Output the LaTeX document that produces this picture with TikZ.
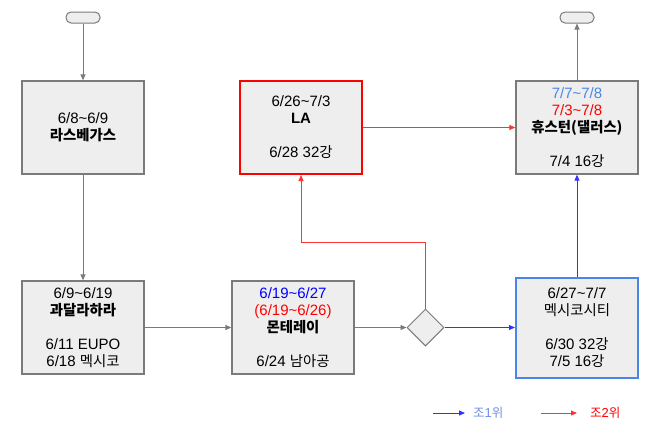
\documentclass[tikz,border=0pt]{standalone}
\usepackage{fontspec}
\setmainfont{Liberation Sans}
\newfontfamily\krfont{Noto Sans CJK KR}[Scale=0.96]
\newcommand{\kr}[1]{{\krfont #1}}
\usetikzlibrary{arrows.meta,shapes.geometric}
\definecolor{boxfill}{HTML}{EEEEEE}
\definecolor{boxline}{HTML}{7A7A7A}
\definecolor{lblue}{HTML}{4A86E8}
\definecolor{myred}{HTML}{FF0000}
\definecolor{myblue}{HTML}{0000FF}
\definecolor{legblue}{HTML}{6D8EEB}
\begin{document}
\begin{tikzpicture}[x=1pt,y=-1pt,
  box/.style={draw=boxline,line width=1.3pt,fill=boxfill,minimum width=122pt,minimum height=93pt,inner sep=0pt,align=center,font=\fontsize{15}{17}\selectfont},
  term/.style={draw=boxline,line width=1pt,fill=boxfill,rounded corners=5pt,minimum width=34pt,minimum height=11pt,inner sep=0pt},
  decision/.style={diamond,aspect=1,draw=boxline,line width=1pt,fill=boxfill,minimum size=37pt,inner sep=0pt},
  tip/.style={-{Triangle[length=6pt,width=5pt]}},
  conn/.style={tip,draw=boxline,line width=0.9pt},
  redconn/.style={tip,draw=myred!80,line width=0.9pt},
  blueconn/.style={tip,draw=myblue!80,line width=0.9pt},
  legtext/.style={anchor=west,inner sep=0pt,font=\fontsize{13}{15}\selectfont}]
\useasboundingbox (0,0) rectangle (654,432);
% terminals
\node[term] (start) at (83,17.5) {};
\node[term] (finish) at (577,17.5) {};
% top row
\node[box] (lv) at (83,127.5) {6/8\textasciitilde 6/9\\ {\bfseries\krfont 라스베가스}};
\node[box,draw=myred,line width=2pt] (la) at (301,127.5) {6/26\textasciitilde 7/3\\ \textbf{LA}\\[17pt] 6/28 32\kr{강}};
\node[box] (hou) at (577,127.5) {\textcolor{lblue}{7/7\textasciitilde 7/8}\\ \textcolor{myred}{7/3\textasciitilde 7/8}\\ {\bfseries\krfont 휴스턴(댈러스)}\\[17pt] 7/4 16\kr{강}};
% bottom row
\node[box] (gua) at (83,327.5) {6/9\textasciitilde 6/19\\ {\bfseries\krfont 과달라하라}\\[17pt] 6/11 EUPO\\ 6/18 \kr{멕시코}};
\node[box] (mon) at (293,327.5) {\textcolor{myblue}{6/19\textasciitilde 6/27}\\ \textcolor{myred}{(6/19\textasciitilde 6/26)}\\ {\bfseries\krfont 몬테레이}\\[17pt] 6/24 \kr{남아공}};
\node[decision] (dia) at (425.5,327.5) {};
\node[box,draw=lblue,line width=2pt,minimum height=100pt] (mex) at (577,327.5) {6/27\textasciitilde 7/7\\ \kr{멕시코시티}\\[17pt] 6/30 32\kr{강}\\ 7/5 16\kr{강}};
% connectors
\draw[conn] (start) -- (lv);
\draw[conn] (lv) -- (gua);
\draw[conn] (gua) -- (mon);
\draw[conn] (mon) -- (dia);
\draw[blueconn] (dia) -- (mex);
\draw[blueconn] (mex) -- (hou);
\draw[conn] (hou) -- (finish);
\coordinate (bend) at (301,242);
\draw[redconn] (dia.north) |- (bend) -- (la.south);
\draw[redconn] (la) -- (hou);
% legend
\coordinate (l1a) at (433,413);
\coordinate (l1b) at (465,413);
\coordinate (l2a) at (541,413);
\coordinate (l2b) at (577,413);
\draw[blueconn] (l1a) -- (l1b);
\draw[redconn] (l2a) -- (l2b);
\node[legtext,text=legblue] (leg1) at (473,413) {\kr{조}1\kr{위}};
\node[legtext,text=myred] (leg2) at (590,413) {\kr{조}2\kr{위}};
\end{tikzpicture}
\end{document}
